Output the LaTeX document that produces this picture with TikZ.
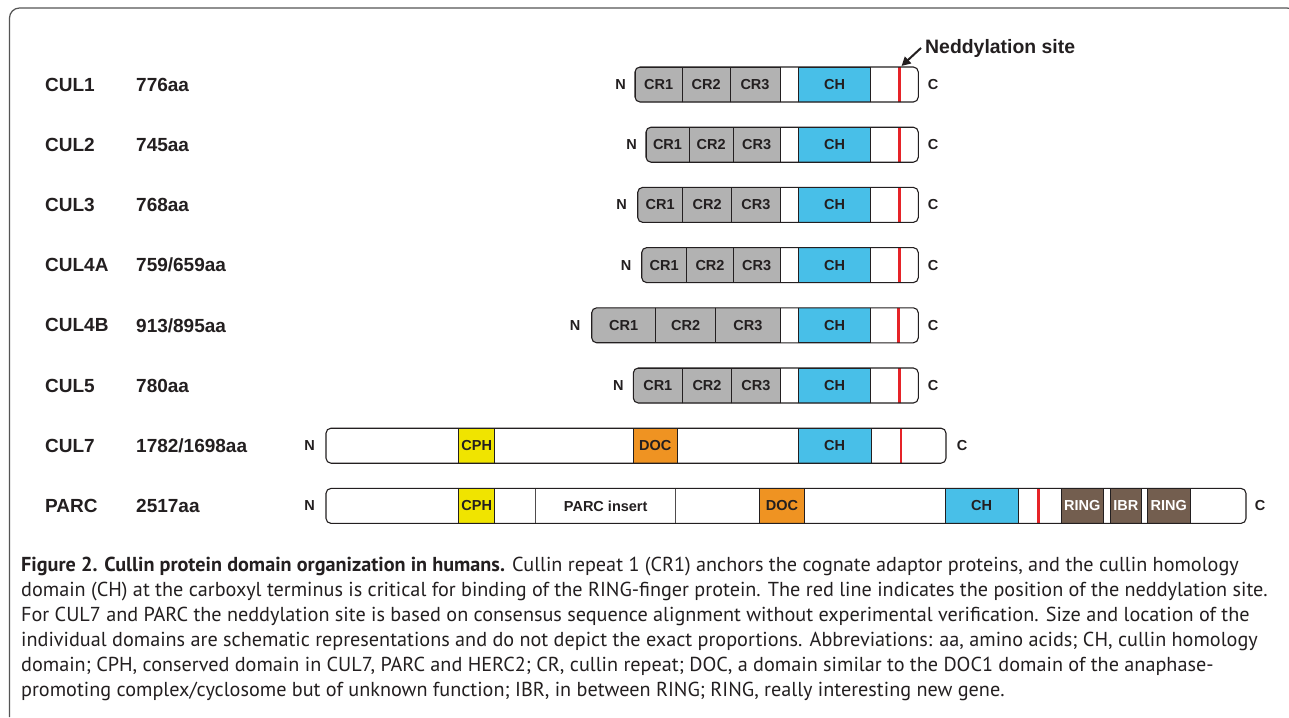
\documentclass[tikz,border=0pt]{standalone}
\usepackage{fontspec}
\setmainfont{Liberation Sans}
\newfontfamily\capfont{PT Sans}
\usetikzlibrary{arrows.meta}
\definecolor{ink}{RGB}{35,31,32}
\definecolor{framegrey}{RGB}{85,85,85}
\definecolor{crgrey}{RGB}{178,178,178}
\definecolor{chblue}{RGB}{72,191,232}
\definecolor{cphyellow}{RGB}{240,228,0}
\definecolor{docorange}{RGB}{239,147,34}
\definecolor{ringbrown}{RGB}{115,94,79}
\definecolor{nedred}{RGB}{230,35,40}
\tikzset{
  lbl/.style={font=\bfseries\fontsize{19}{19}\selectfont, text=ink, inner sep=0pt, text depth=0pt, anchor=west},
  term/.style={font=\bfseries\fontsize{14.5}{14.5}\selectfont, text=ink, inner sep=0pt, text depth=0pt},
  bar/.style={fill=white, inner sep=0pt, outer sep=0pt, minimum height=35pt, anchor=west, rounded corners=5pt},
  barline/.style={draw=ink, line width=1.1pt, rounded corners=5pt},
  dombox/.style={draw=ink, line width=0.9pt, inner sep=0pt, outer sep=0pt, minimum height=35pt, anchor=west,
                 font=\bfseries\fontsize{14.5}{14.5}\selectfont, text=ink},
  cr/.style={dombox, fill=crgrey},
  ch/.style={dombox, fill=chblue},
  cph/.style={dombox, fill=cphyellow},
  doc/.style={dombox, fill=docorange},
  ins/.style={dombox, fill=white, draw=ink!80},
  ring/.style={dombox, fill=ringbrown, text=white},
  redline/.style={draw=nedred, line width=2.6pt},
  arr/.style={draw=ink, line width=2pt, -{Triangle[length=9pt,width=9pt]}},
  capline/.style={font=\capfont\fontsize{20.2}{25}\selectfont, text=ink, inner sep=0pt, anchor=base west},
  frame/.style={draw=framegrey, line width=1.2pt, rounded corners=10pt},
}
\newcommand\protbar[4]{\node[bar, minimum width={(#3)-(#2)}] (#1) at (#2,#4) {};}
\newcommand\domain[6]{\node[#5, minimum width={(#3)-(#2)}] (#1) at (#2,#4) {#6};}
\newcommand\barclip[1]{\clip[rounded corners=5pt] (#1.south west) rectangle (#1.north east);}
\newcommand\barout[1]{\draw[barline] (#1.south west) rectangle (#1.north east);}
\begin{document}
\begin{tikzpicture}[x=1pt,y=-1pt]
\useasboundingbox (0,0) rectangle (1289,717);
\fill[white] (0,0) rectangle (1289,717);
\draw[frame] (9.5,717) -- (9.5,8) -- (1297,8) -- (1297,717);

% ---------- row labels ----------
\node[lbl] (n1) at (45,84.5) {CUL1};   \node[lbl] (a1) at (136,84.5) {776aa};
\node[lbl] (n2) at (45,144.7) {CUL2};  \node[lbl] (a2) at (136,144.7) {745aa};
\node[lbl] (n3) at (45,204.9) {CUL3};  \node[lbl] (a3) at (136,204.9) {768aa};
\node[lbl] (n4) at (45,265.1) {CUL4A}; \node[lbl] (a4) at (136,265.1) {759/659aa};
\node[lbl] (n5) at (45,325.3) {CUL4B}; \node[lbl] (a5) at (136,325.3) {913/895aa};
\node[lbl] (n6) at (45,385.5) {CUL5};  \node[lbl] (a6) at (136,385.5) {780aa};
\node[lbl] (n7) at (45,445.7) {CUL7};  \node[lbl] (a7) at (136,445.7) {1782/1698aa};
\node[lbl] (n8) at (45,505.9) {PARC};  \node[lbl] (a8) at (136,505.9) {2517aa};

% ---------- CUL1 ----------
\protbar{b1}{635}{918.3}{84.5}
\begin{scope}\barclip{b1}
\domain{b1cr1}{635}{682.3}{84.5}{cr}{CR1}
\domain{b1cr2}{682.3}{730}{84.5}{cr}{CR2}
\domain{b1cr3}{730}{780}{84.5}{cr}{CR3}
\domain{b1ch}{798.3}{870.7}{84.5}{ch}{CH}
\draw[redline] (899.3,60) -- (899.3,110);
\end{scope}
\barout{b1}
\node[term] (N1) at (620.7,84.5) {N};
\node[term] (C1) at (933,84.5) {C};

% ---------- CUL2 ----------
\protbar{b2}{646}{918.3}{144.7}
\begin{scope}\barclip{b2}
\domain{b2cr1}{646}{689}{144.7}{cr}{CR1}
\domain{b2cr2}{689}{733.3}{144.7}{cr}{CR2}
\domain{b2cr3}{733.3}{780}{144.7}{cr}{CR3}
\domain{b2ch}{798.3}{870.7}{144.7}{ch}{CH}
\draw[redline] (899.3,120) -- (899.3,170);
\end{scope}
\barout{b2}
\node[term] (N2) at (631.7,144.7) {N};
\node[term] (C2) at (933,144.7) {C};

% ---------- CUL3 ----------
\protbar{b3}{637.7}{918.3}{204.9}
\begin{scope}\barclip{b3}
\domain{b3cr1}{637.7}{682.7}{204.9}{cr}{CR1}
\domain{b3cr2}{682.7}{731.7}{204.9}{cr}{CR2}
\domain{b3cr3}{731.7}{780}{204.9}{cr}{CR3}
\domain{b3ch}{798.3}{870.7}{204.9}{ch}{CH}
\draw[redline] (899.3,180) -- (899.3,230);
\end{scope}
\barout{b3}
\node[term] (N3) at (621.7,204.9) {N};
\node[term] (C3) at (933,204.9) {C};

% ---------- CUL4A ----------
\protbar{b4}{641.7}{918.3}{265.1}
\begin{scope}\barclip{b4}
\domain{b4cr1}{641.7}{686.7}{265.1}{cr}{CR1}
\domain{b4cr2}{686.7}{733.3}{265.1}{cr}{CR2}
\domain{b4cr3}{733.3}{780}{265.1}{cr}{CR3}
\domain{b4ch}{798.3}{870.7}{265.1}{ch}{CH}
\draw[redline] (899.3,240) -- (899.3,290);
\end{scope}
\barout{b4}
\node[term] (N4) at (626,265.1) {N};
\node[term] (C4) at (933,265.1) {C};

% ---------- CUL4B ----------
\protbar{b5}{591.7}{918.3}{325.3}
\begin{scope}\barclip{b5}
\domain{b5cr1}{591.7}{655.7}{325.3}{cr}{CR1}
\domain{b5cr2}{655.7}{715.7}{325.3}{cr}{CR2}
\domain{b5cr3}{715.7}{780}{325.3}{cr}{CR3}
\domain{b5ch}{798.3}{870.7}{325.3}{ch}{CH}
\draw[redline] (898.5,300) -- (898.5,350);
\end{scope}
\barout{b5}
\node[term] (N5) at (575,325.3) {N};
\node[term] (C5) at (933,325.3) {C};

% ---------- CUL5 ----------
\protbar{b6}{633.3}{918.3}{385.5}
\begin{scope}\barclip{b6}
\domain{b6cr1}{633.3}{682.3}{385.5}{cr}{CR1}
\domain{b6cr2}{682.3}{731.7}{385.5}{cr}{CR2}
\domain{b6cr3}{731.7}{780}{385.5}{cr}{CR3}
\domain{b6ch}{798.3}{870.7}{385.5}{ch}{CH}
\draw[redline] (899.3,360) -- (899.3,410);
\end{scope}
\barout{b6}
\node[term] (N6) at (618.3,385.5) {N};
\node[term] (C6) at (933,385.5) {C};

% ---------- CUL7 ----------
\protbar{b7}{326}{946}{445.7}
\begin{scope}\barclip{b7}
\domain{b7cph}{458.7}{494.7}{445.7}{cph}{CPH}
\domain{b7doc}{633.5}{677}{445.7}{doc}{DOC}
\domain{b7ch}{798.3}{871}{445.7}{ch}{CH}
\draw[redline] (901,420) -- (901,470);
\end{scope}
\barout{b7}
\node[term] (N7) at (309.6,445.7) {N};
\node[term] (C7) at (962,445.7) {C};

% ---------- PARC ----------
\protbar{b8}{326}{1246}{505.9}
\begin{scope}\barclip{b8}
\domain{b8cph}{458.7}{494.7}{505.9}{cph}{CPH}
\domain{b8ins}{535.7}{675.7}{505.9}{ins}{PARC insert}
\domain{b8doc}{759.6}{804.3}{505.9}{doc}{DOC}
\domain{b8ch}{945}{1018.3}{505.9}{ch}{CH}
\draw[redline] (1038.3,480) -- (1038.3,530);
\domain{b8ring1}{1061}{1103.3}{505.9}{ring}{RING}
\domain{b8ibr}{1110}{1141.7}{505.9}{ring}{IBR}
\domain{b8ring2}{1147.3}{1190}{505.9}{ring}{RING}
\end{scope}
\barout{b8}
\node[term] (N8) at (309.6,505.9) {N};
\node[term] (C8) at (1260,505.9) {C};

% ---------- neddylation arrow ----------
\node[font=\bfseries\fontsize{19.4}{19.4}\selectfont, text=ink, inner sep=0pt, anchor=base west] (ned) at (925,54) {Neddylation site};
\coordinate (nedsite) at (901.5,66);
\draw[arr] ([xshift=-4pt,yshift=1pt]ned.west) -- (nedsite);

% ---------- caption ----------
\node[capline] (cap1) at (21,571) {\textbf{Figure 2. Cullin protein domain organization in humans.} Cullin repeat 1 (CR1) anchors the cognate adaptor proteins, and the cullin homology};
\node[capline] (cap2) at (21,596) {domain (CH) at the carboxyl terminus is critical for binding of the RING-finger protein. The red line indicates the position of the neddylation site.};
\node[capline] (cap3) at (21,621) {For CUL7 and PARC the neddylation site is based on consensus sequence alignment without experimental verification. Size and location of the};
\node[capline] (cap4) at (21,646) {individual domains are schematic representations and do not depict the exact proportions. Abbreviations: aa, amino acids; CH, cullin homology};
\node[capline] (cap5) at (21,671) {domain; CPH, conserved domain in CUL7, PARC and HERC2; CR, cullin repeat; DOC, a domain similar to the DOC1 domain of the anaphase-};
\node[capline] (cap6) at (21,696) {promoting complex/cyclosome but of unknown function; IBR, in between RING; RING, really interesting new gene.};
\end{tikzpicture}
\end{document}
